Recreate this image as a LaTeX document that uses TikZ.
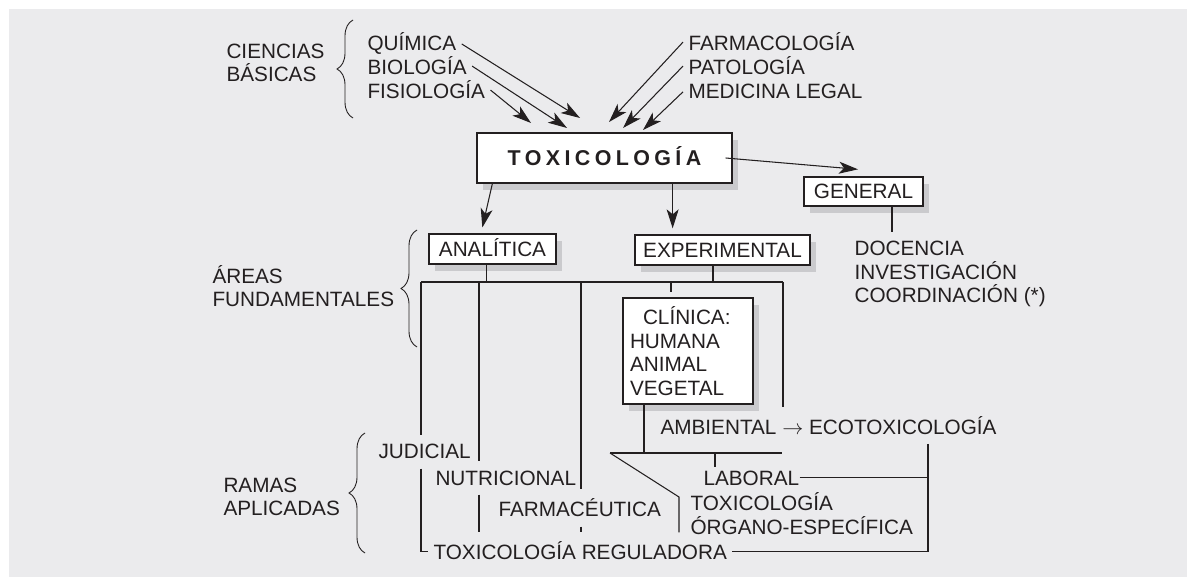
\documentclass[tikz,border=0pt]{standalone}
\usepackage{fontspec}
\setmainfont{Liberation Sans}
\newfontfamily\titlefont{Liberation Sans}[LetterSpace=20.5]
\usepackage{tikz}
\usetikzlibrary{arrows.meta, calc, decorations.pathreplacing}
\definecolor{ink}{RGB}{35,31,32}
\definecolor{panel}{RGB}{235,235,237}
\definecolor{shadowgrey}{RGB}{202,202,205}
\newcommand{\lbl}{\fontsize{11.8}{13.4}\selectfont}

\begin{document}
\begin{tikzpicture}[x=0.02cm, y=-0.02cm, color=ink, line width=0.6pt,
  txt/.style={anchor=base west, align=left, font=\lbl, inner xsep=0.1cm, inner ysep=0.18cm},
  frame/.style={draw, fill=white, line width=0.75pt, inner sep=0pt, font=\lbl,
    preaction={fill=shadowgrey, draw=none, transform canvas={xshift=0.12cm, yshift=-0.14cm}}},
  box/.style={frame, text height=0.297cm, text depth=0pt},
  arr/.style={-{Stealth[length=0.38cm, width=0.24cm, inset=0.1cm]}},
  brc/.style={decorate, decoration={brace, amplitude=0.32cm}, line width=0.5pt}]

% Background
\fill[white] (0,0) rectangle (1187,577);
\fill[panel] (9,9) rectangle (1187,577);

% Nodes
\node[box, minimum width=5.1cm, minimum height=1cm, text height=0.31cm,
  font=\titlefont\fontsize{12.2}{14}\selectfont\bfseries] (toxi) at (604.5,158) {TOXICOLOGÍA};
\node[box, minimum width=2.38cm, minimum height=0.58cm] (gen) at (863.5,191.5) {GENERAL};
\node[box, minimum width=2.54cm, minimum height=0.6cm] (anal) at (492.5,249) {ANALÍTICA};
\node[box, minimum width=3.5cm, minimum height=0.6cm] (exper) at (722.5,250) {EXPERIMENTAL};
\node[frame, minimum width=2.6cm, minimum height=2.12cm, text width=2.32cm, align=left] (clin) at (688,351)
  {\hspace*{0.26cm}CLÍNICA:\\HUMANA\\ANIMAL\\VEGETAL};

% Labels (multi-line ones sit on their last line)
\node[txt] (cienc) at (221,82) {CIENCIAS\\BÁSICAS};
\node[txt] (quim) at (362,51) {QUÍMICA};
\node[txt] (bio) at (362,75) {BIOLOGÍA};
\node[txt] (fisio) at (362,99) {FISIOLOGÍA};
\node[txt] (farma) at (683,51) {FARMACOLOGÍA};
\node[txt] (pato) at (683,75) {PATOLOGÍA};
\node[txt] (medic) at (683,99) {MEDICINA LEGAL};
\node[txt] (docen) at (849,303) {DOCENCIA\\INVESTIGACIÓN\\COORDINACIÓN (*)};
\node[txt] (areas) at (207,307) {ÁREAS\\FUNDAMENTALES};
\node[txt] (ramas) at (218,516) {RAMAS\\APLICADAS};
\node[txt] (judic) at (373,459) {JUDICIAL};
\node[txt] (nutri) at (430,485) {NUTRICIONAL};
\node[txt] (farmac) at (493,517) {FARMACÉUTICA};
\node[txt] (regul) at (428,560) {TOXICOLOGÍA REGULADORA};
\node[txt] (ambi) at (655,435) {AMBIENTAL $\rightarrow$ ECOTOXICOLOGÍA};
\node[txt, inner xsep=0pt, inner ysep=0.05cm] (labor) at (703,485) {LABORAL};
\node[txt] (organo) at (685,534) {TOXICOLOGÍA\\ÓRGANO-ESPECÍFICA};

% Braces
\draw[brc] (353,118) -- (353,20);
\draw[brc] (417,347) -- (417,230);
\draw[brc] (365,553) -- (365,433);

% Arrows into toxicology
\coordinate (in1) at (580,118);
\coordinate (in2) at (567,128);
\coordinate (in3) at (531,123);
\coordinate (in4) at (609,122);
\coordinate (in5) at (623,128);
\coordinate (in6) at (643,130);
\draw[arr] (quim.east) -- (in1);
\draw[arr] (bio.east) -- (in2);
\draw[arr] (fisio.east) -- (in3);
\draw[arr] (farma.west) -- (in4);
\draw[arr] (pato.west) -- (in5);
\draw[arr] (medic.west) -- (in6);

% Arrows out of toxicology
\draw[arr] ([xshift=-0.14cm]toxi.east) -- ([xshift=-0.11cm, yshift=0.14cm]gen.north);
\draw[arr, shorten >=0.12cm] ([xshift=0.32cm]toxi.south west) -- ([xshift=-0.23cm]anal.north);
\draw[arr, shorten >=0.12cm] ([xshift=-1.2cm]toxi.south east) -- ([xshift=-1.2cm]toxi.south east |- exper.north);
\draw ([xshift=0.57cm]gen.south) -- ([xshift=0.57cm]gen.south |- docen.north);

% Tree of branches
\coordinate (barL) at (421,282);
\coordinate (barR) at (783,282);
\coordinate (v2) at (479,282);
\coordinate (v3) at (581,282);
\coordinate (v4) at (671,282);
\coordinate (lowL) at (610,453);
\coordinate (lowR) at (782,453);
\coordinate (v6) at (644,453);
\coordinate (v7) at (715,453);
\coordinate (bend) at (679,497);
\coordinate (vr) at (928,444);

\draw (barL) -- (barR);
\draw ([xshift=-0.12cm]anal.south) -- ([xshift=-0.12cm]anal.south |- barL);
\draw ([xshift=-0.19cm]exper.south) -- ([xshift=-0.19cm]exper.south |- barL);
\draw (barL) -- (barL |- judic.north);
\draw (barL |- judic.south) |- (regul.west);
\draw (v2) -- (v2 |- nutri.north);
\draw (v2 |- nutri.south) -- (v2 |- regul.north);
\draw (v3) -- (v3 |- farmac.north);
\draw (v3 |- farmac.south) -- (v3 |- regul.north);
\draw[shorten >=0.1cm] (v4) -- (v4 |- clin.north);
\draw (barR) -- (barR |- ambi.north);
\draw (v6 |- clin.south) -- (v6);
\draw (lowL) -- (lowR);
\draw (lowL) -- (bend) -- (bend |- regul.north);
\draw (v7) -- (v7 |- labor.north);
\draw (labor.east) -- (labor.east -| vr);
\draw (vr) |- (regul.east);

\end{tikzpicture}
\end{document}
